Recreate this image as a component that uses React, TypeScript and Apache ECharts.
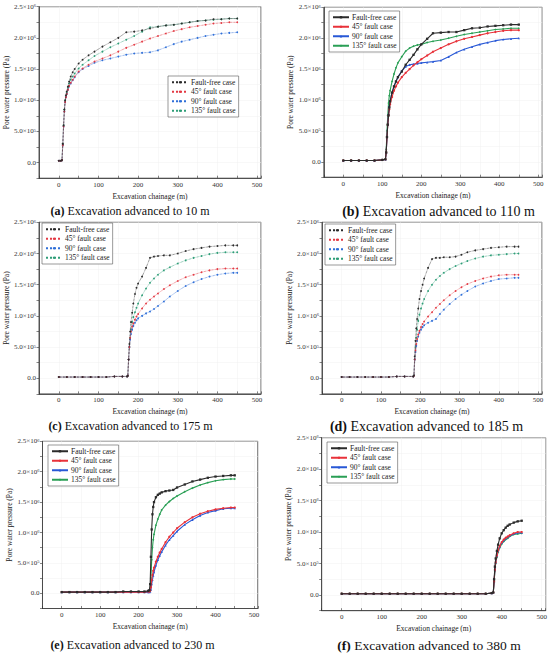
import React, { useEffect, useRef } from "react";
import * as echarts from "echarts";

const CASES = ["Fault-free case", "45° fault case", "90° fault case", "135° fault case"];
const X_TICKS = [0, 100, 200, 300, 400, 500];
const Y_TICKS = [0, 5e5, 1e6, 1.5e6, 2e6, 2.5e6];
const Y_TICK_LABELS = ["0.0", "5.0×10{s|5}", "1.0×10{s|6}", "1.5×10{s|6}", "2.0×10{s|6}", "2.5×10{s|6}"];
const CAPTION_TAGS = ["(a)", "(b)", "(c)", "(d)", "(e)", "(f)"];
const CAPTION_TEXTS = [
  "Excavation advanced to 10 m",
  "Excavation advanced to 110 m",
  "Excavation advanced to 175 m",
  "Excavation advanced to 185 m",
  "Excavation advanced to 230 m",
  "Excavation advanced to 380 m",
];

// values in units of 10^6 Pa
// (a) advanced to 10 m
const xA = [0, 5, 8, 10, 12, 14, 16, 18, 20, 23, 26, 30, 35, 40, 50, 60, 75, 90, 110, 130, 150, 170, 190, 210, 230, 250, 270, 290, 310, 330, 350, 370, 390, 410, 430, 450];
const aFree = [0.03, 0.03, 0.04, 0.3, 0.6, 0.85, 1.0, 1.08, 1.14, 1.22, 1.3, 1.38, 1.45, 1.5, 1.59, 1.65, 1.72, 1.78, 1.86, 1.93, 2.0, 2.09, 2.1, 2.12, 2.15, 2.18, 2.2, 2.21, 2.23, 2.25, 2.27, 2.28, 2.3, 2.3, 2.31, 2.31];
const a45 = [0.03, 0.03, 0.04, 0.28, 0.58, 0.82, 0.97, 1.05, 1.1, 1.17, 1.23, 1.28, 1.33, 1.38, 1.46, 1.51, 1.57, 1.62, 1.67, 1.72, 1.78, 1.84, 1.89, 1.94, 1.99, 2.03, 2.07, 2.11, 2.14, 2.17, 2.19, 2.21, 2.23, 2.24, 2.25, 2.25];
const a90 = [0.03, 0.03, 0.04, 0.28, 0.58, 0.82, 0.97, 1.05, 1.1, 1.17, 1.22, 1.27, 1.32, 1.37, 1.45, 1.5, 1.55, 1.6, 1.64, 1.67, 1.7, 1.73, 1.75, 1.76, 1.77, 1.8, 1.85, 1.9, 1.94, 1.97, 2.0, 2.03, 2.05, 2.07, 2.08, 2.09];
const a135 = [0.03, 0.03, 0.04, 0.3, 0.6, 0.85, 1.0, 1.07, 1.12, 1.2, 1.27, 1.33, 1.38, 1.43, 1.51, 1.57, 1.64, 1.71, 1.78, 1.85, 1.91, 1.97, 2.03, 2.1, 2.17, 2.18, 2.2, 2.21, 2.23, 2.25, 2.27, 2.28, 2.29, 2.3, 2.31, 2.31];

// (b) advanced to 110 m
const xB = [0, 20, 40, 60, 80, 100, 108, 110, 112, 114, 116, 118, 120, 125, 130, 135, 140, 150, 160, 170, 180, 190, 200, 215, 230, 250, 270, 290, 310, 330, 350, 370, 390, 410, 430, 450];
const bFree = [0.02, 0.02, 0.02, 0.02, 0.02, 0.03, 0.04, 0.15, 0.4, 0.6, 0.75, 0.88, 0.98, 1.12, 1.22, 1.3, 1.37, 1.46, 1.57, 1.65, 1.73, 1.82, 1.9, 1.99, 2.08, 2.09, 2.1, 2.1, 2.13, 2.16, 2.17, 2.19, 2.2, 2.21, 2.22, 2.22];
const b45 = [0.02, 0.02, 0.02, 0.02, 0.02, 0.03, 0.04, 0.15, 0.4, 0.6, 0.75, 0.85, 0.93, 1.05, 1.15, 1.22, 1.28, 1.37, 1.44, 1.5, 1.56, 1.61, 1.66, 1.72, 1.78, 1.84, 1.9, 1.95, 1.99, 2.02, 2.05, 2.08, 2.1, 2.12, 2.13, 2.13];
const b90 = [0.02, 0.02, 0.02, 0.02, 0.02, 0.03, 0.04, 0.15, 0.4, 0.62, 0.78, 0.9, 0.98, 1.12, 1.22, 1.3, 1.37, 1.47, 1.54, 1.57, 1.58, 1.59, 1.6, 1.61, 1.62, 1.64, 1.7, 1.77, 1.82, 1.86, 1.9, 1.93, 1.96, 1.98, 1.99, 2.0];
const b135 = [0.02, 0.02, 0.02, 0.02, 0.02, 0.03, 0.04, 0.2, 0.5, 0.75, 0.95, 1.07, 1.15, 1.3, 1.42, 1.52, 1.6, 1.7, 1.79, 1.84, 1.87, 1.89, 1.9, 1.93, 1.95, 1.97, 2.0, 2.03, 2.06, 2.08, 2.1, 2.12, 2.14, 2.15, 2.16, 2.16];

// (c) advanced to 175 m
const xC = [0, 20, 40, 60, 80, 100, 120, 140, 160, 172, 174, 176, 178, 180, 182, 185, 188, 192, 196, 200, 210, 220, 230, 240, 250, 265, 280, 300, 320, 340, 360, 380, 400, 420, 440, 450];
const cFree = [0.02, 0.02, 0.02, 0.02, 0.02, 0.02, 0.02, 0.03, 0.03, 0.03, 0.04, 0.3, 0.55, 0.75, 0.9, 1.05, 1.2, 1.35, 1.45, 1.52, 1.63, 1.77, 1.93, 1.95, 1.96, 1.97, 1.97, 2.0, 2.04, 2.07, 2.09, 2.11, 2.12, 2.13, 2.13, 2.13];
const c45 = [0.02, 0.02, 0.02, 0.02, 0.02, 0.02, 0.02, 0.03, 0.03, 0.03, 0.04, 0.3, 0.5, 0.65, 0.75, 0.83, 0.88, 0.94, 0.99, 1.03, 1.12, 1.2, 1.26, 1.31, 1.36, 1.43, 1.49, 1.56, 1.62, 1.66, 1.7, 1.73, 1.75, 1.76, 1.76, 1.76];
const c90 = [0.02, 0.02, 0.02, 0.02, 0.02, 0.02, 0.02, 0.03, 0.03, 0.03, 0.04, 0.3, 0.5, 0.62, 0.71, 0.78, 0.84, 0.89, 0.93, 0.96, 1.0, 1.04, 1.07, 1.11, 1.16, 1.23, 1.31, 1.4, 1.48, 1.54, 1.59, 1.63, 1.66, 1.68, 1.69, 1.69];
const c135 = [0.02, 0.02, 0.02, 0.02, 0.02, 0.02, 0.02, 0.03, 0.03, 0.03, 0.04, 0.3, 0.5, 0.65, 0.78, 0.9, 0.98, 1.06, 1.13, 1.2, 1.33, 1.44, 1.53, 1.6, 1.66, 1.73, 1.78, 1.84, 1.89, 1.93, 1.96, 1.99, 2.01, 2.02, 2.02, 2.02];

// (d) advanced to 185 m
const xD = [0, 20, 40, 60, 80, 100, 120, 140, 160, 182, 184, 186, 188, 190, 192, 195, 198, 202, 206, 210, 220, 230, 240, 250, 260, 275, 290, 305, 320, 340, 360, 380, 400, 420, 440, 450];
const dFree = [0.02, 0.02, 0.02, 0.02, 0.02, 0.02, 0.02, 0.03, 0.03, 0.03, 0.05, 0.35, 0.6, 0.8, 0.95, 1.12, 1.27, 1.4, 1.5, 1.6, 1.77, 1.91, 1.93, 1.93, 1.94, 1.94, 1.95, 1.98, 2.02, 2.05, 2.07, 2.09, 2.1, 2.11, 2.11, 2.11];
const d45 = [0.02, 0.02, 0.02, 0.02, 0.02, 0.02, 0.02, 0.03, 0.03, 0.03, 0.04, 0.3, 0.45, 0.55, 0.63, 0.7, 0.76, 0.82, 0.87, 0.91, 0.99, 1.06, 1.13, 1.19, 1.25, 1.33, 1.4, 1.46, 1.51, 1.56, 1.6, 1.63, 1.65, 1.66, 1.66, 1.66];
const d90 = [0.02, 0.02, 0.02, 0.02, 0.02, 0.02, 0.02, 0.03, 0.03, 0.03, 0.04, 0.3, 0.42, 0.52, 0.6, 0.67, 0.73, 0.78, 0.82, 0.85, 0.89, 0.92, 0.95, 1.03, 1.1, 1.19, 1.27, 1.34, 1.4, 1.47, 1.52, 1.56, 1.59, 1.6, 1.61, 1.61];
const d135 = [0.02, 0.02, 0.02, 0.02, 0.02, 0.02, 0.02, 0.03, 0.03, 0.03, 0.04, 0.3, 0.5, 0.65, 0.78, 0.92, 1.02, 1.12, 1.2, 1.27, 1.4, 1.5, 1.58, 1.64, 1.69, 1.75, 1.8, 1.84, 1.88, 1.92, 1.95, 1.97, 1.98, 1.99, 2.0, 2.0];

// (e) advanced to 230 m
const xE = [0, 20, 40, 60, 80, 100, 120, 140, 160, 180, 200, 215, 225, 228, 230, 232, 234, 236, 238, 240, 245, 250, 255, 260, 270, 280, 290, 300, 320, 340, 360, 380, 400, 420, 440, 450];
const eFree = [0.02, 0.02, 0.02, 0.02, 0.02, 0.02, 0.02, 0.02, 0.03, 0.03, 0.03, 0.03, 0.04, 0.05, 0.15, 0.6, 1.05, 1.3, 1.42, 1.5, 1.58, 1.62, 1.64, 1.66, 1.68, 1.69, 1.7, 1.74, 1.79, 1.84, 1.87, 1.9, 1.92, 1.93, 1.94, 1.94];
const e45 = [0.02, 0.02, 0.02, 0.02, 0.02, 0.02, 0.02, 0.02, 0.02, 0.02, 0.02, 0.02, 0.03, 0.03, 0.04, 0.1, 0.22, 0.3, 0.37, 0.42, 0.52, 0.6, 0.67, 0.73, 0.84, 0.93, 1.0, 1.07, 1.17, 1.25, 1.31, 1.35, 1.38, 1.4, 1.41, 1.41];
const e90 = [0.02, 0.02, 0.02, 0.02, 0.02, 0.02, 0.02, 0.02, 0.02, 0.02, 0.02, 0.02, 0.02, 0.02, 0.03, 0.06, 0.15, 0.22, 0.29, 0.35, 0.46, 0.55, 0.62, 0.68, 0.79, 0.88, 0.95, 1.02, 1.13, 1.21, 1.28, 1.33, 1.36, 1.39, 1.4, 1.4];
const e135 = [0.02, 0.02, 0.02, 0.02, 0.02, 0.02, 0.02, 0.02, 0.02, 0.02, 0.02, 0.02, 0.02, 0.03, 0.05, 0.25, 0.55, 0.75, 0.88, 0.97, 1.12, 1.22, 1.3, 1.37, 1.45, 1.51, 1.56, 1.6, 1.67, 1.73, 1.78, 1.82, 1.85, 1.87, 1.88, 1.88];

// (f) advanced to 380 m
const xF = [0, 20, 40, 60, 80, 100, 120, 140, 160, 180, 200, 220, 240, 260, 280, 300, 320, 340, 360, 375, 379, 381, 383, 385, 388, 391, 395, 400, 405, 410, 415, 420, 430, 440, 450];
const fFree = [0.02, 0.02, 0.02, 0.02, 0.02, 0.02, 0.02, 0.02, 0.02, 0.02, 0.02, 0.02, 0.02, 0.02, 0.02, 0.02, 0.02, 0.02, 0.02, 0.03, 0.04, 0.25, 0.45, 0.58, 0.7, 0.8, 0.9, 0.98, 1.03, 1.07, 1.1, 1.12, 1.15, 1.17, 1.18];
const f45 = [0.02, 0.02, 0.02, 0.02, 0.02, 0.02, 0.02, 0.02, 0.02, 0.02, 0.02, 0.02, 0.02, 0.02, 0.02, 0.02, 0.02, 0.02, 0.02, 0.03, 0.04, 0.22, 0.4, 0.52, 0.63, 0.71, 0.78, 0.84, 0.88, 0.91, 0.93, 0.95, 0.98, 1.0, 1.0];
const f90 = [0.02, 0.02, 0.02, 0.02, 0.02, 0.02, 0.02, 0.02, 0.02, 0.02, 0.02, 0.02, 0.02, 0.02, 0.02, 0.02, 0.02, 0.02, 0.02, 0.03, 0.04, 0.22, 0.4, 0.52, 0.62, 0.7, 0.77, 0.83, 0.87, 0.9, 0.92, 0.94, 0.97, 0.99, 0.99];
const f135 = [0.02, 0.02, 0.02, 0.02, 0.02, 0.02, 0.02, 0.02, 0.02, 0.02, 0.02, 0.02, 0.02, 0.02, 0.02, 0.02, 0.02, 0.02, 0.02, 0.03, 0.04, 0.2, 0.38, 0.5, 0.6, 0.68, 0.75, 0.81, 0.85, 0.88, 0.9, 0.93, 0.96, 0.97, 0.98];

const PANEL_X = [xA, xB, xC, xD, xE, xF];
const PANEL_Y = [
  [aFree, a45, a90, a135],
  [bFree, b45, b90, b135],
  [cFree, c45, c90, c135],
  [dFree, d45, d90, d135],
  [eFree, e45, e90, e135],
  [fFree, f45, f90, f135],
];

// layout (pixels)
const LAYOUT = [
  { left: 39, top: 6.7, width: 222, height: 171.5, lgL: 168, lgT: 76, capX: 130, capY: 211, capSize: 12, dotted: true, yGap: 28 },
  { left: 323.8, top: 7.3, width: 218.4, height: 169.9, lgL: 329, lgT: 11, capX: 438.5, capY: 211, capSize: 14, dotted: false, yGap: 29 },
  { left: 39, top: 222.3, width: 222, height: 171.6, lgL: 42, lgT: 223, capX: 130.5, capY: 426, capSize: 12, dotted: true, yGap: 28 },
  { left: 322, top: 222.3, width: 220, height: 171.6, lgL: 325, lgT: 224, capX: 426.5, capY: 426, capSize: 14, dotted: true, yGap: 28 },
  { left: 42.5, top: 441.3, width: 215.3, height: 167.2, lgL: 48, lgT: 445, capX: 132.5, capY: 645, capSize: 12, dotted: false, yGap: 28 },
  { left: 321.7, top: 437.7, width: 224, height: 173, lgL: 327, lgT: 442, capX: 429, capY: 645, capSize: 13.5, dotted: false, yGap: 28 },
];

const SOLID_COLORS = ["#2b2b2b", "#e8323a", "#2858d6", "#2a9f55"];
const DOT_COLORS = ["#2b2b2b", "#e33a44", "#2f6fd8", "#2f9e78"];
const SYMBOLS = ["rect", "circle", "triangle", "diamond"];
const FONT = "Liberation Serif";
const P_KEYS = ["a", "b", "c", "d", "e", "f"];

export default function App() {
  const ref = useRef<HTMLDivElement>(null);
  useEffect(() => {
    document.body.style.margin = "0";
    if (!ref.current) return;
    const chart = echarts.init(ref.current, null, { renderer: "svg" });

    const grid = LAYOUT.map((l) => ({
      left: l.left, top: l.top, width: l.width, height: l.height,
      show: true, borderColor: "#333", borderWidth: 0.8, backgroundColor: "transparent",
    }));

    const xAxis = LAYOUT.map((l, i) => ({
      type: "value", gridIndex: i, min: -50, max: 510, interval: 50,
      name: "Excavation chainage (m)", nameLocation: "middle", nameGap: 14,
      nameTextStyle: { fontSize: 7.5, fontFamily: FONT, color: "#222" },
      axisLine: { show: true, onZero: false, lineStyle: { color: "#333", width: 0.8 } },
      axisTick: { show: true, inside: true, length: 2.5, lineStyle: { color: "#333", width: 0.6 } },
      axisLabel: {
        fontSize: 7, fontFamily: FONT, color: "#333", margin: 3,
        formatter: (v: number) => (X_TICKS.indexOf(v) >= 0 ? String(v) : ""),
        showMinLabel: true, showMaxLabel: true,
      },
      splitLine: { show: true, lineStyle: { color: "#f1f1f1", width: 0.5 } },
    }));

    const yAxis = LAYOUT.map((l, i) => ({
      type: "value", gridIndex: i, min: -250000, max: 2500000, interval: 250000,
      name: "Pore water pressure (Pa)", nameLocation: "middle", nameGap: l.yGap,
      nameTextStyle: { fontSize: 7.5, fontFamily: FONT, color: "#222" },
      axisLine: { show: true, onZero: false, lineStyle: { color: "#333", width: 0.8 } },
      axisTick: { show: true, inside: false, length: 2.5, lineStyle: { color: "#333", width: 0.6 } },
      axisLabel: {
        fontSize: 7, fontFamily: FONT, color: "#333", margin: 3,
        formatter: (v: number) => {
          const k = Y_TICKS.findIndex((t) => Math.abs(t - v) < 1);
          return k >= 0 ? Y_TICK_LABELS[k] : "";
        },
        rich: { s: { fontSize: 4.5, fontFamily: FONT, color: "#333", verticalAlign: "top", lineHeight: 6 } },
      },
      splitLine: { show: true, lineStyle: { color: "#f1f1f1", width: 0.5 } },
    }));

    const series: any[] = [];
    LAYOUT.forEach((l, i) => {
      const xs = PANEL_X[i];
      PANEL_Y[i].forEach((ys, k) => {
        const color = l.dotted ? DOT_COLORS[k] : SOLID_COLORS[k];
        series.push({
          type: "line",
          name: P_KEYS[i] + "|" + CASES[k],
          xAxisIndex: i, yAxisIndex: i,
          data: xs.map((x, j) => [x, ys[j] * 1e6]),
          symbol: l.dotted ? "circle" : SYMBOLS[k],
          symbolSize: l.dotted ? 1.8 : 2.3,
          showSymbol: true,
          lineStyle: { color, width: l.dotted ? 0.7 : 1.1, type: l.dotted ? "dotted" : "solid" },
          itemStyle: { color },
          emphasis: { disabled: true },
          z: 2 + (3 - k),
        });
      });
    });

    const legend = LAYOUT.map((l, i) => ({
      orient: "vertical", left: l.lgL, top: l.lgT,
      data: CASES.map((c) => P_KEYS[i] + "|" + c),
      formatter: (n: string) => n.split("|")[1],
      itemWidth: 16, itemHeight: 3, itemGap: 1,
      padding: [2, 3, 2, 3],
      borderColor: "#555", borderWidth: 0.6, backgroundColor: "#fff",
      selectedMode: false,
      textStyle: { fontSize: 7.5, fontFamily: FONT, color: "#222", lineHeight: 8.5, padding: [0, 0, 0, -2] },
    }));

    const graphic = LAYOUT.map((l, i) => ({
      type: "text",
      x: l.capX, y: l.capY,
      style: {
        text: "{b|" + CAPTION_TAGS[i] + "} " + CAPTION_TEXTS[i],
        rich: { b: { fontWeight: "bold", fontSize: l.capSize, fontFamily: FONT, fill: "#111" } },
        font: l.capSize + "px " + FONT,
        fontSize: l.capSize, fontFamily: FONT, fill: "#111",
        align: "center", verticalAlign: "middle",
      },
    }));

    chart.setOption({
      animation: false,
      backgroundColor: "#fff",
      grid, xAxis, yAxis, series, legend, graphic,
    });
    return () => chart.dispose();
  }, []);
  return <div ref={ref} style={{ width: 550, height: 654 }} />;
}
